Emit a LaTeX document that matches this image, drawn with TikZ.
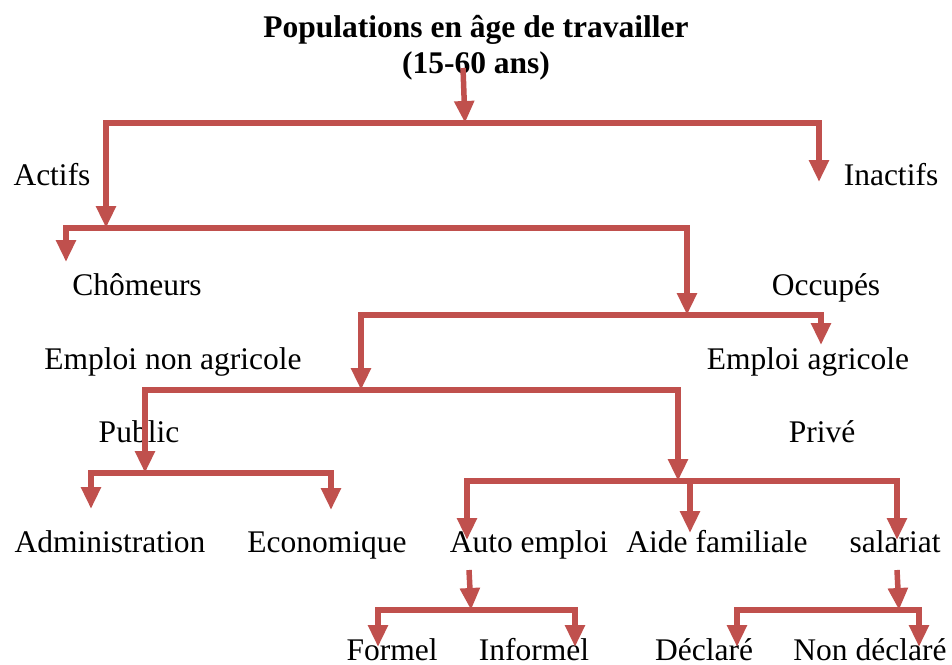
\documentclass[tikz,border=0pt]{standalone}
\usepackage{fontspec}
\setmainfont{Liberation Serif}
\usetikzlibrary{arrows.meta}
\definecolor{branchred}{RGB}{192,80,77}

\begin{document}
\begin{tikzpicture}[x=0.5pt,y=-0.5pt,
        font=\fontsize{15.75}{18.5}\selectfont,
        every node/.style={inner sep=0pt,anchor=base},
        title/.style={font=\fontsize{15.75}{18.5}\selectfont\bfseries},
        link/.style={draw=branchred,line width=2.75pt,-{Triangle[length=11pt,width=9.5pt]}},
        fork/.style={link,{Triangle[length=11pt,width=9.5pt]}-{Triangle[length=11pt,width=9.5pt]}}]
    \useasboundingbox (0,0) rectangle (952,664);

    % labels
    \node[title] (pop)    at (476,37) {Populations en âge de travailler};
    \node[title] (popage) at (476,73) {(15-60 ans)};
    \node (actifs)   at (52,185)  {Actifs};
    \node (inactifs) at (891,185) {Inactifs};
    \node (chom)     at (137,295) {Chômeurs};
    \node (occ)      at (826,295) {Occupés};
    \node (nonagri)  at (173,369) {Emploi non agricole};
    \node (agri)     at (808,369) {Emploi agricole};
    \node (public)   at (139,442) {Public};
    \node (prive)    at (822,442) {Privé};
    \node (admin)    at (110,552) {Administration};
    \node (eco)      at (327,552) {Economique};
    \node (auto)     at (529,552) {Auto emploi};
    \node (aide)     at (717,552) {Aide familiale};
    \node (sal)      at (895,552) {salariat};
    \node (formel)   at (392,660) {Formel};
    \node (informel) at (534,660) {Informel};
    \node (decl)     at (704,660) {Déclaré};
    \node (nondecl)  at (870,660) {Non déclaré};

    % junctions on the bars
    \coordinate (pop-out)  at (463,68);
    \coordinate (pop-bar)  at (465,123);
    \coordinate (act-bar)  at (106,228);
    \coordinate (occ-bar)  at (687,315);
    \coordinate (nag-bar)  at (361,390);
    \coordinate (pub-bar)  at (145,473);
    \coordinate (priv-bar) at (678,481);
    \coordinate (auto-out) at (469,570);
    \coordinate (auto-bar) at (471,610);
    \coordinate (sal-out)  at (897,570);
    \coordinate (sal-bar)  at (899,610);

    % tips
    \coordinate (inact-tip) at (819,182);
    \coordinate (chom-tip)  at (66,262);
    \coordinate (agri-tip)  at (821,345);
    \coordinate (admin-tip) at (91,509);
    \coordinate (eco-tip)   at (331,510);
    \coordinate (auto-tip)  at (467,540);
    \coordinate (aide-tip)  at (690,533);
    \coordinate (sal-tip)   at (897,540);
    \coordinate (form-tip)  at (378,647);
    \coordinate (inf-tip)   at (575,647);
    \coordinate (decl-tip)  at (737,647);
    \coordinate (ndecl-tip) at (919,647);

    \draw[link] (pop-out) -- (pop-bar);
    \draw[fork] (act-bar) |- (pop-bar) -| (inact-tip);
    \draw[fork] (chom-tip) |- (act-bar) -| (occ-bar);
    \draw[fork] (nag-bar) |- (occ-bar) -| (agri-tip);
    \draw[fork] (pub-bar) |- (nag-bar) -| (priv-bar);
    \draw[fork] (admin-tip) |- (pub-bar) -| (eco-tip);
    \draw[fork] (auto-tip) |- (priv-bar) -| (sal-tip);
    \draw[link] (priv-bar -| aide-tip) -- (aide-tip);
    \draw[link] (auto-out) -- (auto-bar);
    \draw[fork] (form-tip) |- (auto-bar) -| (inf-tip);
    \draw[link] (sal-out) -- (sal-bar);
    \draw[fork] (decl-tip) |- (sal-bar) -| (ndecl-tip);
\end{tikzpicture}
\end{document}
